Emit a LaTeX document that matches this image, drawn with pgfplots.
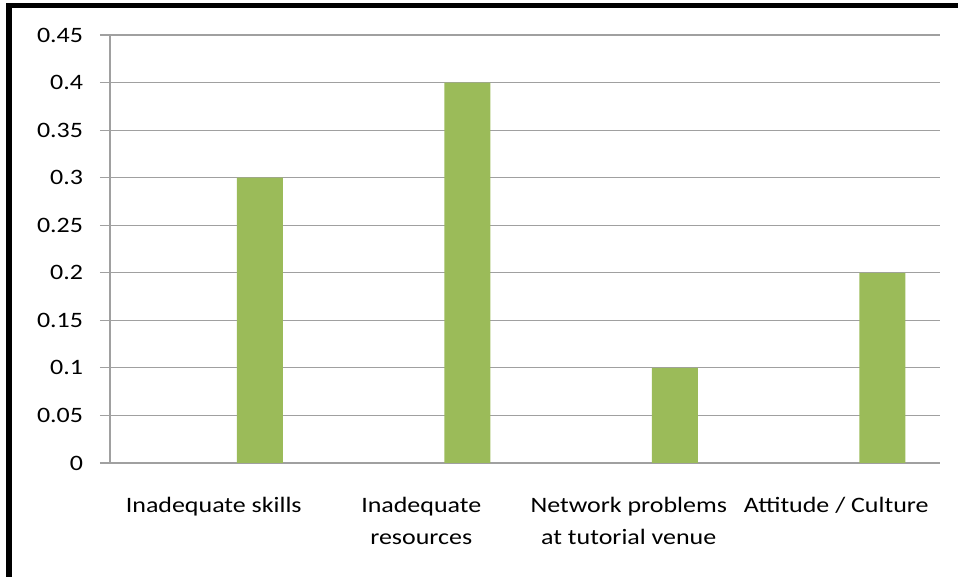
\documentclass[border=0pt]{standalone}
\usepackage{pgfplots}
\pgfplotsset{compat=1.18}
\usepackage{fontspec}
\setmainfont{Carlito}[FakeStretch=1.18]
\definecolor{bargreen}{HTML}{9BBB59}
\definecolor{gridgray}{HTML}{A0A0A0}
\begin{document}
\begin{tikzpicture}[x=1pt,y=1pt]
\useasboundingbox (0,0) rectangle (718.5,432.75);
\begin{axis}[
  at={(82.5pt,85.5pt)}, anchor=south west,
  scale only axis, width=622.5pt, height=321pt,
  xmin=-0.5, xmax=3.5, ymin=0, ymax=0.45,
  axis lines*=left,
  axis line style={gridgray, line width=0.9pt},
  ymajorgrids, grid style={gridgray, line width=0.9pt},
  ytick={0,0.05,0.1,0.15,0.2,0.25,0.3,0.35,0.4,0.45},
  yticklabels={0,0.05,0.1,0.15,0.2,0.25,0.3,0.35,0.4,0.45},
  xtick={0,1,2,3},
  xticklabels={Inadequate skills,Inadequate\\resources,Network problems\\at tutorial venue,Attitude / Culture},
  minor xtick={-0.5,0.5,1.5,2.5,3.5},
  tick align=outside,
  major tick length=7.5pt, minor tick length=4.5pt,
  xtick style={draw=none},
  ytick style={gridgray, line width=0.9pt},
  minor x tick style={gridgray, line width=0.9pt},
  /pgf/number format/assume math mode=true,
  ticklabel style={font=\fontsize{16.5}{24}\selectfont, text=black},
  yticklabel style={anchor=east, inner sep=0pt, xshift=-12.5pt},
  xticklabel style={anchor=north, align=center, inner sep=0pt, yshift=-18pt},
  clip=false,
]
\addplot[ybar, bar width=0.2217, bar shift=0pt, fill=bargreen, draw=none]
  coordinates {(0.2217,0.3) (1.2217,0.4) (2.2217,0.1) (3.2217,0.2)};
\end{axis}
\draw[line width=4.1pt, black] (6.6,0) -- (6.6,428.6);
\draw[line width=4.1pt, black] (4.55,428.6) -- (718.5,428.6);
\end{tikzpicture}
\end{document}
